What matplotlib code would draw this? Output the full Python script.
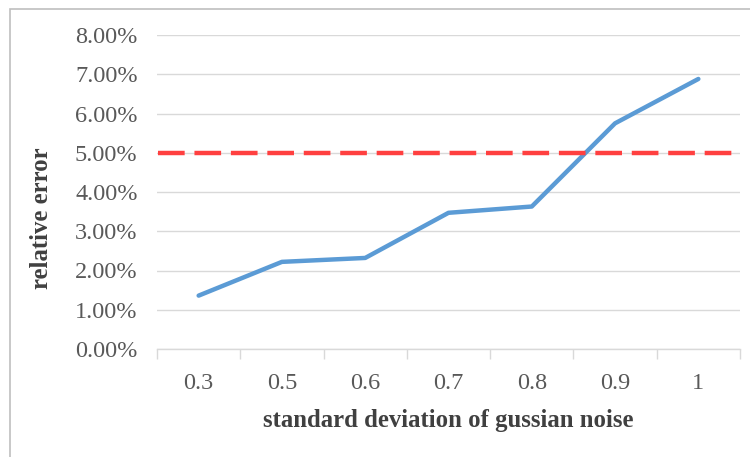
import matplotlib
matplotlib.use("Agg")
import matplotlib.pyplot as plt
from matplotlib.patches import Rectangle
from matplotlib.ticker import FuncFormatter, FixedLocator

categories = ["0.3", "0.5", "0.6", "0.7", "0.8", "0.9", "1"]
relative_error = [0.0136, 0.0222, 0.0232, 0.0347, 0.0363, 0.0575, 0.0688]
threshold = 0.05
y_ticks = [0.00, 0.01, 0.02, 0.03, 0.04, 0.05, 0.06, 0.07, 0.08]

plt.rcParams['font.family'] = ['Liberation Serif', 'DejaVu Serif']

W, H = 750, 457
fig = plt.figure(figsize=(W / 100, H / 100), dpi=100)
ax = fig.add_axes([157 / W, (H - 349) / H, (740 - 157) / W, (349 - 35) / H])

x = list(range(len(categories)))
ax.plot(x, relative_error, color="#5B9BD5", lw=3.2, solid_capstyle="round", zorder=3)
ax.axhline(threshold, xmin=0.002, xmax=0.995, color="#FF4040", lw=3.2,
           dashes=(6, 2.2), zorder=4)

ax.set_xlim(-0.5, len(categories) - 0.5)
ax.set_ylim(0, 0.08)
ax.set_yticks(y_ticks)
ax.yaxis.set_major_formatter(FuncFormatter(lambda v, p: f"{v*100:.2f}%"))
ax.set_xticks(x)
ax.set_xticklabels(categories)
ax.xaxis.set_minor_locator(FixedLocator([i - 0.5 for i in range(len(categories) + 1)]))

ax.grid(axis="y", color="#D9D9D9", lw=1.0, zorder=0)
for s in ["top", "right", "left"]:
    ax.spines[s].set_visible(False)
ax.spines["bottom"].set_color("#D9D9D9")
ax.spines["bottom"].set_linewidth(1.0)

ax.tick_params(axis="y", length=0, pad=14, labelsize=17.5, labelcolor="#595959")
ax.tick_params(axis="x", which="major", length=0, pad=17, labelsize=17.5, labelcolor="#595959")
ax.tick_params(axis="x", which="minor", length=7.5, width=1.0, color="#D9D9D9", direction="out")

fig.text(448 / W, 1 - 420 / H, "standard deviation of gussian noise", ha="center", va="center",
         fontsize=17.8, fontweight="bold", color="#404040")
fig.text(41 / W, 1 - 218 / H, "relative error", ha="center", va="center", rotation=90,
         fontsize=17.8, fontweight="bold", color="#404040")

fig.patches.append(Rectangle((9.5 / W, -0.1), 2, 1.1 - 9.5 / H, transform=fig.transFigure,
                             fill=False, edgecolor="#BFBFBF", lw=1.2))

fig.savefig("out.png", dpi=100, facecolor="white")
